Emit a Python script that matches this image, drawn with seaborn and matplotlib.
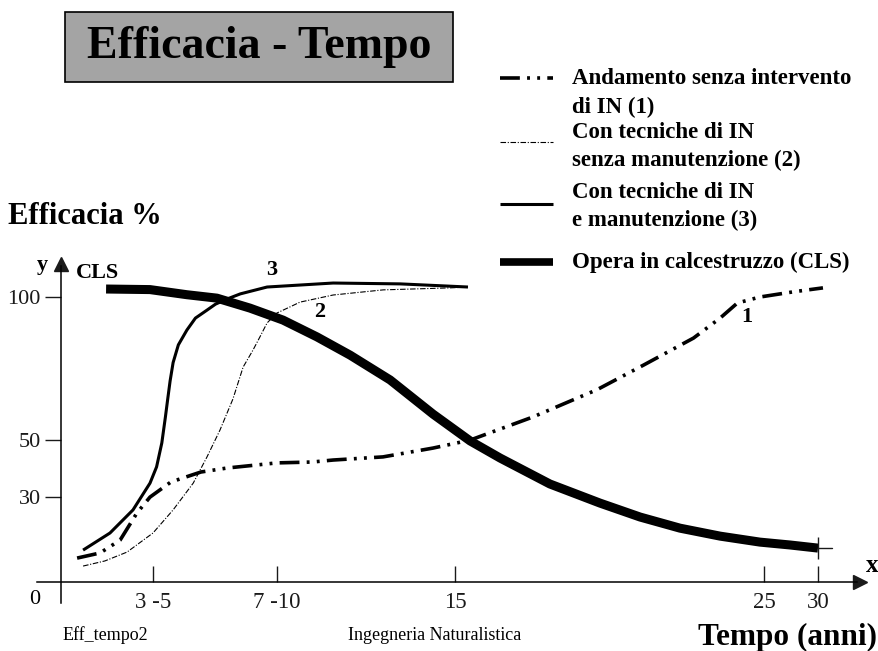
import numpy as np
import pandas as pd
import matplotlib
matplotlib.use("Agg")
import matplotlib.pyplot as plt
from matplotlib.patches import Rectangle
from matplotlib.lines import Line2D
import seaborn as sns

# curva 1: andamento senza intervento di IN
anni_1 = [0.7, 1.7, 2.57, 3.3, 3.87, 4.65, 5.74, 6.69, 8.5, 9.78, 10.55, 12.37,
          14.2, 15.49, 17.52, 19.6, 21.1, 22.72, 23.58, 24.14, 24.87, 27.69, 30.46]
eff_1 = [8.4, 10.2, 14.7, 24.2, 29.8, 35.1, 38.6, 40.0, 41.8, 42.1, 42.8, 43.9,
         47.0, 49.8, 57.9, 67.5, 76.1, 85.6, 92.6, 97.9, 100.0, 101.8, 103.2]

# curva 2: tecniche di IN senza manutenzione
anni_2 = [0.96, 1.91, 2.87, 4.0, 4.73, 5.46, 5.96, 6.43, 6.9, 7.27, 7.63, 7.88,
          8.14, 8.5, 8.97, 9.34, 10.55, 12.38, 14.82, 15.42]
eff_2 = [5.6, 7.4, 10.5, 17.2, 25.3, 34.7, 43.9, 53.3, 64.2, 75.4, 81.4, 86.0,
         90.9, 94.4, 96.5, 98.2, 100.7, 102.5, 103.2, 103.5]

# curva 3: tecniche di IN e manutenzione
anni_3 = [0.96, 2.13, 3.13, 3.87, 4.13, 4.32, 4.45, 4.53, 4.62, 4.73, 4.92, 5.23,
          5.54, 5.96, 6.27, 6.69, 7.17, 8.14, 10.55, 13.0, 15.42]
eff_3 = [11.2, 17.2, 25.3, 34.7, 40.4, 48.8, 57.9, 63.9, 70.5, 77.0, 83.2, 88.4,
         92.6, 95.4, 97.5, 99.3, 101.1, 103.5, 104.9, 104.6, 103.5]

# opera in calcestruzzo
anni_cls = [1.96, 3.87, 5.23, 6.32, 7.52, 8.72, 9.96, 11.17, 12.63, 14.2, 15.49,
            16.46, 18.07, 19.69, 20.99, 22.28, 23.58, 24.87, 27.4, 30.0]
eff_cls = [102.8, 102.6, 100.8, 99.6, 96.1, 91.9, 86.0, 79.6, 70.9, 58.9, 49.5,
           43.5, 34.4, 27.7, 22.8, 18.9, 16.1, 14.0, 13.0, 11.9]

tick_anni = [4, 8.5, 15, 25, 30]
tick_labels = ["3 -5", "7 -10", "15", "25", "30"]
tick_eff = [30, 50, 100]

legenda = [
    ("1", ["Andamento senza intervento", "di IN (1)"]),
    ("2", ["Con tecniche di IN", "senza manutenzione (2)"]),
    ("3", ["Con tecniche di IN", "e manutenzione (3)"]),
    ("CLS", ["Opera in calcestruzzo (CLS)"]),
]

df = pd.concat([
    pd.DataFrame({"anni": anni_1, "efficacia": eff_1, "curva": "1"}),
    pd.DataFrame({"anni": anni_2, "efficacia": eff_2, "curva": "2"}),
    pd.DataFrame({"anni": anni_3, "efficacia": eff_3, "curva": "3"}),
    pd.DataFrame({"anni": anni_cls, "efficacia": eff_cls, "curva": "CLS"}),
])

larghezze = {"1": 2.6, "2": 0.8, "3": 2.2, "CLS": 6.5}
tratteggi = {"1": (5.5, 2, 0.8, 2, 0.8, 2), "2": (5, 1.5, 1, 1.5), "3": "", "CLS": ""}

sns.set_theme(style="white")
plt.rcParams["font.family"] = ["Liberation Serif", "DejaVu Serif"]
plt.rcParams["text.color"] = "black"

W, H = 879, 651
fig = plt.figure(figsize=(W / 100, H / 100), dpi=100)
ax = fig.add_axes([0, 0, 1, 1])
ax.patch.set_alpha(0)

# asse del tempo non lineare, come nel disegno (posizioni in pixel)
knot_anni = [-2.65, 0, 4, 8.5, 15, 25, 30, 35.65]
knot_pos = [0, 61, 153, 277, 455, 764, 818, 879]
ax.set_xscale("function", functions=(lambda v: np.interp(v, knot_anni, knot_pos),
                                     lambda p: np.interp(p, knot_pos, knot_anni)))

sns.lineplot(data=df, x="anni", y="efficacia", hue="curva", size="curva",
             style="curva", palette={k: "black" for k in larghezze},
             sizes=larghezze, dashes=tratteggi, legend=False, ax=ax,
             solid_capstyle="butt", dash_capstyle="butt", solid_joinstyle="round")

ax.set_xlim(-2.65, 35.65)
ax.set_ylim(-24.2, 204.2)

# croce alla fine della curva CLS
ax.plot(anni_cls[-1], eff_cls[-1], marker="|", ms=16, mew=1, color="k")
ax.plot([anni_cls[-1], anni_cls[-1] + 1.3], [eff_cls[-1], eff_cls[-1]], color="k", lw=1)

# assi con frecce
for s in ["top", "right"]:
    ax.spines[s].set_visible(False)
ax.spines["left"].set_position(("data", 0))
ax.spines["bottom"].set_position(("data", 0))
ax.spines["left"].set_bounds(-7.4, 111)
ax.spines["bottom"].set_bounds(-1.04, 33.6)
for s in ["left", "bottom"]:
    ax.spines[s].set_color("black")
    ax.spines[s].set_linewidth(1.1)
ax.plot(33.9, 0, marker=">", ms=10, color="k", clip_on=False)
ax.plot(0, 111.6, marker="^", ms=10, color="k", clip_on=False)

ax.set_xticks(tick_anni, tick_labels)
ax.set_yticks(tick_eff, [str(v) for v in tick_eff])
ax.tick_params(axis="x", direction="in", length=11.5, width=1, pad=7,
               labelsize=16.5, bottom=True, color="k", labelcolor="k")
ax.tick_params(axis="y", direction="out", length=11.5, width=1, pad=3,
               labelsize=16, left=True, color="k", labelcolor="k")
ax.set_xlabel("")
ax.set_ylabel("")
ax.grid(False)


def fx(px):
    return px / W


def fy(py):
    return 1 - py / H


# titolo nel riquadro grigio
fig.patches.append(Rectangle((fx(65), fy(82)), 388 / W, 70 / H, transform=fig.transFigure,
                             facecolor="#a4a4a4", edgecolor="black", lw=1.2))
fig.text(fx(259), fy(47), "Efficacia - Tempo", fontsize=33, fontweight="bold",
         ha="center", va="center")

# legenda disegnata a mano
righe_y = [[78, 107], [132, 160], [192, 220], [262]]
campione_y = [78, 142, 204, 262]
for (chiave, righe), ys, cy in zip(legenda, righe_y, campione_y):
    ln = Line2D([fx(500), fx(553)], [fy(cy), fy(cy)], transform=fig.transFigure,
                color="black", lw=larghezze[chiave] if chiave != "CLS" else 5.5,
                solid_capstyle="butt", dash_capstyle="butt")
    if tratteggi[chiave]:
        ln.set_dashes(tratteggi[chiave])
    fig.lines.append(ln)
    for riga, y in zip(righe, ys):
        fig.text(fx(572), fy(y), riga, fontsize=16.5, fontweight="bold", va="center")

# etichette varie
fig.text(fx(8), fy(216), "Efficacia %", fontsize=22, fontweight="bold", va="center")
fig.text(fx(42), fy(265), "y", fontsize=16, fontweight="bold", ha="center", va="center")
fig.text(fx(872), fy(565), "x", fontsize=18, fontweight="bold", ha="center", va="center")
fig.text(fx(35), fy(600), "0", fontsize=16, ha="center", va="center")
ax.text(1.57, 108.4, "CLS", fontsize=16, fontweight="bold", ha="center", va="center")
ax.text(8.32, 109.5, "3", fontsize=16, fontweight="bold", ha="center", va="center")
ax.text(10.07, 94.7, "2", fontsize=16, fontweight="bold", ha="center", va="center")
ax.text(24.45, 93.0, "1", fontsize=16, fontweight="bold", ha="center", va="center")

fig.text(fx(63), fy(635), "Eff_tempo2", fontsize=13, va="center")
fig.text(fx(435), fy(635), "Ingegneria Naturalistica", fontsize=13, ha="center", va="center")
fig.text(fx(877), fy(637), "Tempo (anni)", fontsize=22.5, fontweight="bold",
         ha="right", va="center")

fig.savefig("out.png", dpi=100, facecolor="white")
